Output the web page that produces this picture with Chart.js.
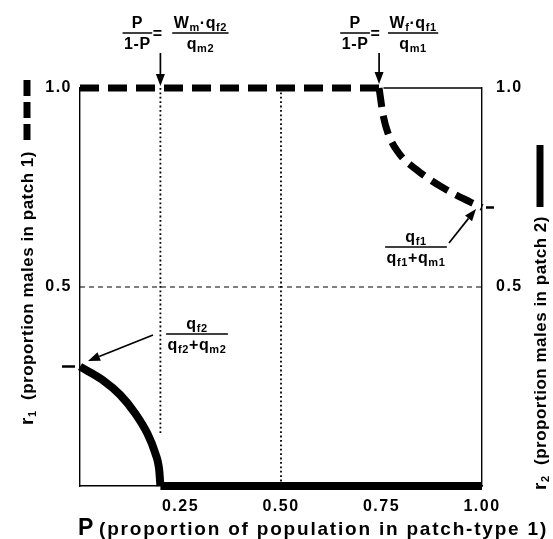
<!DOCTYPE html>
<html>
<head>
<meta charset="utf-8">
<script src="https://cdn.jsdelivr.net/npm/chart.js@4.4.0/dist/chart.umd.min.js"></script>
<style>
  html, body { margin: 0; background: #fff; }
  #wrap { width: 553px; height: 539px; }
</style>
</head>
<body>
<div id="wrap"><canvas id="chart"></canvas></div>
<script>
// r1 (patch 1, thick dashed) and r2 (patch 2, thick solid) against P
const pR1 = [0, 0.744, 0.754, 0.766, 0.791, 0.838, 0.900, 0.970, 1.0];
const r1 = [1, 1, 0.932, 0.887, 0.839, 0.794, 0.751, 0.714, 0.70];
const pR2 = [0, 0.057, 0.100, 0.137, 0.167, 0.187, 0.197, 0.2, 1.0];
const r2 = [0.30, 0.266, 0.229, 0.183, 0.133, 0.083, 0.040, 0, 0];

const xTicks = [0.25, 0.50, 0.75, 1.00];
const yTicks = [0.5, 1.0];
const dottedP = [0.2, 0.5];
const dottedFrom = [1, 1];
const dottedTo = [0.13, 0];
const halfLevel = 0.5;
const topEdge = [0.755, 1];
const r2Start = 0.30;
const r1End = 0.70;

const FONT = '"Liberation Sans", Arial, sans-serif';
const pts = (xs, ys) => xs.map((x, i) => ({ x: x, y: ys[i] }));

// parts: [text, size, dy]; sp = extra spacing per character
function textWidth(ctx, parts, sp) {
    let w = 0;
    ctx.letterSpacing = '0px';
    parts.forEach(p => {
        ctx.font = 'bold ' + p[1] + 'px ' + FONT;
        w += ctx.measureText(p[0]).width + (sp || 0) * p[0].length;
    });
    return w;
}

function rich(ctx, parts, x, y, align, sp) {
    sp = sp || 0;
    const w = textWidth(ctx, parts, sp);
    let cx = align === 'center' ? x - w / 2 : (align === 'right' ? x - w : x);
    ctx.textAlign = 'left';
    ctx.textBaseline = 'alphabetic';
    parts.forEach(p => {
        ctx.font = 'bold ' + p[1] + 'px ' + FONT;
        ctx.letterSpacing = '0px';
        const adv = ctx.measureText(p[0]).width + sp * p[0].length;
        ctx.letterSpacing = sp + 'px';
        ctx.fillText(p[0], cx, y + (p[2] || 0));
        cx += adv;
    });
    ctx.letterSpacing = '0px';
    return w;
}

// stretch a run of text so that it covers a given length
function fitted(ctx, parts, len) {
    const n = parts.reduce((a, p) => a + p[0].length, 0);
    return (len - textWidth(ctx, parts, 0)) / n;
}

function fraction(ctx, num, den, cx, barY) {
    const sp = 0.6;
    const w = Math.max(textWidth(ctx, num, sp), textWidth(ctx, den, sp)) + 3;
    rich(ctx, num, cx, barY - 5, 'center', sp);
    rich(ctx, den, cx, barY + 16, 'center', sp);
    ctx.lineWidth = 1.5;
    ctx.beginPath();
    ctx.moveTo(cx - w / 2, barY);
    ctx.lineTo(cx + w / 2, barY);
    ctx.stroke();
}

function arrow(ctx, x1, y1, x2, y2) {
    const a = Math.atan2(y2 - y1, x2 - x1);
    const hl = 12, hw = 4.5;
    ctx.lineWidth = 1.7;
    ctx.beginPath();
    ctx.moveTo(x1, y1);
    ctx.lineTo(x2 - hl * Math.cos(a), y2 - hl * Math.sin(a));
    ctx.stroke();
    ctx.beginPath();
    ctx.moveTo(x2, y2);
    ctx.lineTo(x2 - hl * Math.cos(a) + hw * Math.sin(a), y2 - hl * Math.sin(a) - hw * Math.cos(a));
    ctx.lineTo(x2 - hl * Math.cos(a) - hw * Math.sin(a), y2 - hl * Math.sin(a) + hw * Math.cos(a));
    ctx.closePath();
    ctx.fill();
}

function drawEq(ctx, fracX, num, den, rightCx) {
    const m = 16;
    fraction(ctx, [['P', m]], [['1-P', m]], fracX, 33);
    rich(ctx, [['=', m]], fracX + 20, 39, 'center');
    fraction(ctx, num, den, rightCx, 33);
}

const spacing = {
    id: 'spacing',
    beforeDraw(chart) { chart.ctx.letterSpacing = '1.5px'; }
};

const notes = {
    id: 'notes',
    afterDraw(chart) {
        const ctx = chart.ctx;
        const sx = chart.scales.x, sy = chart.scales.y;
        ctx.save();
        ctx.letterSpacing = '0px';
        ctx.fillStyle = '#000';
        ctx.strokeStyle = '#000';
        const m = 16, s = 11, d = 3;

        // threshold formulas with arrows
        const leftX = sx.getPixelForValue(0.2);
        const rightX = sx.getPixelForValue(pR1[1]);
        drawEq(ctx, leftX - 23, [['W', m], ['m', s, d], ['·', m], ['q', m], ['f2', s, d]], [['q', m], ['m2', s, d]], leftX + 40);
        drawEq(ctx, rightX - 24, [['W', m], ['f', s, d], ['·', m], ['q', m], ['f1', s, d]], [['q', m], ['m1', s, d]], rightX + 34);
        arrow(ctx, leftX, 53, leftX, 86);
        arrow(ctx, rightX, 53, rightX, 84);

        // ratios at the curve ends
        fraction(ctx, [['q', m], ['f1', s, d]], [['q', m], ['f1', s, d], ['+', m], ['q', m], ['m1', s, d]], 416, 247);
        arrow(ctx, 449, 243, 476, 209);
        fraction(ctx, [['q', m], ['f2', s, d]], [['q', m], ['f2', s, d], ['+', m], ['q', m], ['m2', s, d]], 197, 334);
        arrow(ctx, 153, 335, 88, 361);

        // small end ticks
        ctx.lineWidth = 2.5;
        const yl = sy.getPixelForValue(r2Start), yr = sy.getPixelForValue(r1End);
        ctx.beginPath();
        ctx.moveTo(62, yl); ctx.lineTo(75, yl);
        ctx.moveTo(486, yr); ctx.lineTo(494, yr);
        ctx.stroke();

        // x title
        rich(ctx, [['P', 23]], 78, 535, 'left');
        const xt = [[' (proportion of population in patch-type 1)', 19]];
        rich(ctx, xt, 92, 535, 'left', fitted(ctx, xt, 548 - 92));

        // left title with dashed key
        const lt = [['r', 19], ['1', 11, 3], ['  (proportion males in patch 1)', 17]];
        ctx.save();
        ctx.translate(27, 425);
        ctx.rotate(-Math.PI / 2);
        rich(ctx, lt, 0, 6, 'left', fitted(ctx, lt, 274));
        ctx.restore();
        ctx.lineWidth = 7;
        ctx.setLineDash([16, 6]);
        ctx.beginPath();
        ctx.moveTo(27, 140);
        ctx.lineTo(27, 78);
        ctx.stroke();
        ctx.setLineDash([]);

        // right title with solid key
        const rt = [['r', 19], ['2', 11, 3], ['  (proportion males in patch 2)', 17]];
        ctx.save();
        ctx.translate(540, 490);
        ctx.rotate(-Math.PI / 2);
        rich(ctx, rt, 0, 6, 'left', fitted(ctx, rt, 274));
        ctx.restore();
        ctx.lineWidth = 7;
        ctx.beginPath();
        ctx.moveTo(540, 207);
        ctx.lineTo(540, 145);
        ctx.stroke();

        ctx.restore();
    }
};

const thick = {
    showLine: true,
    borderColor: '#000',
    borderCapStyle: 'butt',
    pointRadius: 0,
    clip: false
};

const r1Pts = pts(pR1, r1);
const r2Pts = pts(pR2, r2);

new Chart(document.getElementById('chart'), {
    type: 'scatter',
    data: {
        datasets: [
            { ...thick, label: 'r1 flat', data: r1Pts.slice(0, 2), borderWidth: 7, borderDash: [19, 9] },
            { ...thick, label: 'r1 arc', data: r1Pts.slice(1), borderWidth: 7, borderDash: [19, 9], cubicInterpolationMode: 'monotone' },
            { ...thick, label: 'r2 arc', data: r2Pts.slice(0, 8), borderWidth: 8, cubicInterpolationMode: 'monotone' },
            { ...thick, label: 'r2 flat', data: r2Pts.slice(7), borderWidth: 8 },
            ...dottedP.map((p, i) => ({
                label: 'P=' + p,
                data: [{ x: p, y: dottedFrom[i] }, { x: p, y: dottedTo[i] }],
                showLine: true,
                borderColor: '#000',
                borderWidth: 1.8,
                borderDash: [1.8, 2.6],
                pointRadius: 0
            })),
            {
                label: 'half',
                data: [{ x: 0, y: halfLevel }, { x: 1, y: halfLevel }],
                showLine: true,
                borderColor: '#000',
                borderWidth: 1,
                borderDash: [5, 4],
                pointRadius: 0
            },
            {
                label: 'top',
                data: topEdge.map(x => ({ x: x, y: 1 })),
                showLine: true,
                borderColor: '#000',
                borderWidth: 1.4,
                pointRadius: 0,
                clip: false
            }
        ]
    },
    options: {
        responsive: true,
        maintainAspectRatio: false,
        animation: false,
        layout: { padding: 0 },
        plugins: { legend: { display: false }, tooltip: { enabled: false } },
        scales: {
            x: {
                type: 'linear', position: 'bottom', min: 0, max: 1,
                grid: { display: false, drawTicks: false },
                border: { display: true, color: '#000', width: 1.4 },
                afterBuildTicks: s => { s.ticks = xTicks.map(v => ({ value: v })); },
                afterFit: s => { s.height = 53; },
                ticks: {
                    color: '#000', padding: 11, maxRotation: 0, autoSkip: false,
                    font: { family: FONT, size: 16, weight: 'bold' },
                    callback: v => v.toFixed(2)
                }
            },
            x2: {
                type: 'linear', position: 'top', min: 0, max: 1,
                grid: { display: false, drawTicks: false },
                border: { display: false },
                ticks: { display: false },
                afterFit: s => { s.height = 88; }
            },
            y: {
                type: 'linear', position: 'left', min: 0, max: 1,
                grid: { display: false, drawTicks: false },
                border: { display: true, color: '#000', width: 1.4 },
                afterBuildTicks: s => { s.ticks = yTicks.map(v => ({ value: v })); },
                afterFit: s => { s.width = 80; },
                ticks: {
                    color: '#000', padding: 8,
                    font: { family: FONT, size: 16, weight: 'bold' },
                    callback: v => v.toFixed(1)
                }
            },
            y2: {
                type: 'linear', position: 'right', min: 0, max: 1,
                grid: { display: false, drawTicks: false },
                border: { display: true, color: '#000', width: 1.4 },
                afterBuildTicks: s => { s.ticks = yTicks.map(v => ({ value: v })); },
                afterFit: s => { s.width = 71; },
                ticks: {
                    color: '#000', padding: 14,
                    font: { family: FONT, size: 16, weight: 'bold' },
                    callback: v => v.toFixed(1)
                }
            }
        }
    },
    plugins: [spacing, notes]
});
</script>
</body>
</html>
